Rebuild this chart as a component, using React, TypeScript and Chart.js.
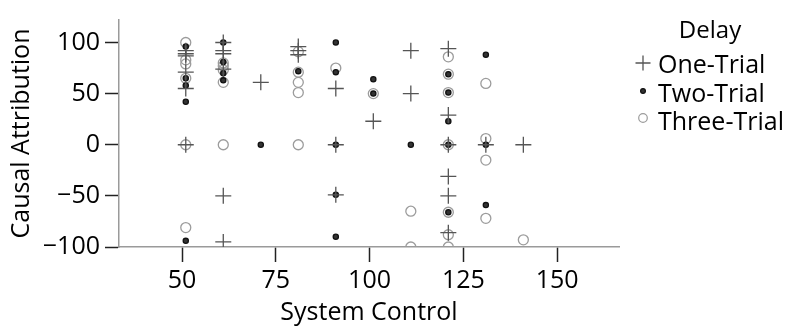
import React, { useEffect, useRef } from 'react';
import { Chart, registerables } from 'chart.js';

Chart.register(...registerables);

const legendTitle = 'Delay';
const seriesNames = ['One-Trial', 'Two-Trial', 'Three-Trial'];
const xTitle = 'System Control';
const yTitle = 'Causal Attribution';
const xTicks = [50, 75, 100, 125, 150];
const yTicks = [-100, -50, 0, 50, 100];

const oneTrialX = [51, 51, 51, 51, 51, 51, 61, 61, 61, 61, 61, 61, 71, 81, 81, 81, 91, 91, 91, 101, 111, 111, 121, 121, 121, 121, 121, 121, 131, 141];
const oneTrialY = [92, 89, 87, 71, 55, 0, 100, 92, 89, 74, -50, -95, 61, 96, 92, 88, 55, 0, -49, 23, 92, 50, 94, 29, 0, -31, -50, -86, 0, 0];

const twoTrialX = [51, 51, 51, 51, 51, 61, 61, 61, 61, 71, 81, 91, 91, 91, 91, 91, 101, 101, 111, 121, 121, 121, 121, 121, 131, 131, 131];
const twoTrialY = [96, 65, 58, 42, -94, 100, 81, 70, 63, 0, 72, 100, 71, 0, -49, -90, 64, 50, 0, 69, 51, 23, 0, -66, 88, 0, -59];

const threeTrialX = [51, 51, 51, 51, 51, 51, 61, 61, 61, 61, 61, 81, 81, 81, 81, 81, 91, 101, 111, 111, 121, 121, 121, 121, 121, 121, 121, 131, 131, 131, 131, 141];
const threeTrialY = [100, 83, 79, 65, 0, -81, 80, 77, 73, 61, 0, 91, 71, 61, 51, 0, 75, 50, -65, -100, 86, 69, 51, 0, -66, -88, -100, 60, 6, -15, -72, -93];

const FONT = "'Open Sans', 'DejaVu Sans', sans-serif";

const toPoints = (xs: number[], ys: number[]) => xs.map((x, i) => ({ x, y: ys[i] }));

const PLUS_COLOR = '#555555';
const DOT_COLOR = '#111111';
const CIRCLE_COLOR = '#9c9c9c';

const legendPlugin = {
  id: 'customLegend',
  afterDraw(chart: any) {
    const ctx = chart.ctx as CanvasRenderingContext2D;
    ctx.save();
    ctx.fillStyle = '#000';
    ctx.textAlign = 'center';
    ctx.textBaseline = 'alphabetic';
    ctx.font = `24px ${FONT}`;
    ctx.fillText(legendTitle, 710, 38);
    ctx.textAlign = 'left';
    ctx.font = `25px ${FONT}`;
    const baselines = [73, 102, 130];
    const markerY = [63, 91, 118];
    const mx = 643;
    seriesNames.forEach((name, i) => {
      ctx.fillStyle = '#000';
      ctx.fillText(name, 658, baselines[i]);
      const my = markerY[i];
      if (i === 0) {
        ctx.strokeStyle = PLUS_COLOR;
        ctx.lineWidth = 1.3;
        ctx.beginPath();
        ctx.moveTo(mx - 7.5, my);
        ctx.lineTo(mx + 7.5, my);
        ctx.moveTo(mx, my - 7.5);
        ctx.lineTo(mx, my + 7.5);
        ctx.stroke();
      } else if (i === 1) {
        ctx.fillStyle = '#333';
        ctx.strokeStyle = DOT_COLOR;
        ctx.lineWidth = 1.2;
        ctx.beginPath();
        ctx.arc(mx, my, 2.4, 0, Math.PI * 2);
        ctx.fill();
        ctx.stroke();
      } else {
        ctx.strokeStyle = CIRCLE_COLOR;
        ctx.lineWidth = 1.2;
        ctx.beginPath();
        ctx.arc(mx, my, 4.3, 0, Math.PI * 2);
        ctx.stroke();
      }
    });
    ctx.restore();
  },
};

export default function App() {
  const canvasRef = useRef<HTMLCanvasElement | null>(null);

  useEffect(() => {
    document.body.style.margin = '0';
    const canvas = canvasRef.current;
    if (!canvas) return;
    Chart.defaults.font.family = FONT;
    const chart = new Chart(canvas, {
      type: 'scatter',
      data: {
        datasets: [
          {
            label: seriesNames[0],
            data: toPoints(oneTrialX, oneTrialY),
            pointStyle: 'cross',
            pointRadius: 8,
            borderColor: PLUS_COLOR,
            backgroundColor: PLUS_COLOR,
            pointBorderWidth: 1.3,
            clip: 0,
          },
          {
            label: seriesNames[1],
            data: toPoints(twoTrialX, twoTrialY),
            pointStyle: 'circle',
            pointRadius: 2.6,
            borderColor: DOT_COLOR,
            backgroundColor: '#333',
            pointBorderWidth: 1.3,
            clip: 0,
          },
          {
            label: seriesNames[2],
            data: toPoints(threeTrialX, threeTrialY),
            pointStyle: 'circle',
            pointRadius: 5,
            borderColor: CIRCLE_COLOR,
            backgroundColor: 'rgba(0,0,0,0)',
            pointBorderWidth: 1.3,
            clip: 0,
          },
        ],
      },
      options: {
        animation: false,
        responsive: false,
        maintainAspectRatio: false,
        layout: { padding: { left: 0, right: 170, top: 8, bottom: 0 } },
        plugins: {
          legend: { display: false },
          tooltip: { enabled: false },
        },
        scales: {
          x: {
            type: 'linear',
            min: 33.2,
            max: 166.5,
            afterBuildTicks: (scale: any) => {
              scale.ticks = xTicks.map((v) => ({ value: v }));
            },
            afterFit: (scale: any) => {
              scale.height = 83;
            },
            grid: {
              drawOnChartArea: false,
              drawTicks: true,
              tickLength: 15,
              tickColor: '#222',
              tickWidth: 1.5,
            },
            border: { color: '#9a9a9a', width: 1.5 },
            ticks: {
              color: '#000',
              padding: 4,
              font: { size: 25, family: FONT },
              maxRotation: 0,
              autoSkip: false,
            },
            title: {
              display: true,
              text: xTitle,
              color: '#000',
              font: { size: 25, family: FONT, lineHeight: 1.2 },
              padding: { top: 0, bottom: 2 },
            },
          },
          y: {
            type: 'linear',
            min: -100,
            max: 122,
            afterBuildTicks: (scale: any) => {
              scale.ticks = yTicks.map((v) => ({ value: v }));
            },
            afterFit: (scale: any) => {
              scale.width = 119;
            },
            grid: {
              drawOnChartArea: false,
              drawTicks: true,
              tickLength: 14,
              tickColor: '#222',
              tickWidth: 1.5,
            },
            border: { color: '#9a9a9a', width: 1.5 },
            ticks: {
              color: '#000',
              padding: 5,
              font: { size: 25, family: FONT },
              autoSkip: false,
              callback: (v: any) => String(v).replace('-', '\u2212'),
            },
            title: {
              display: true,
              text: yTitle,
              color: '#000',
              font: { size: 25, family: FONT, lineHeight: 1.2 },
              padding: { top: 7, bottom: 0 },
            },
          },
        },
      },
      plugins: [legendPlugin],
    } as any);
    return () => chart.destroy();
  }, []);

  return (
    <div style={{ width: 789, height: 330 }}>
      <canvas ref={canvasRef} width={789} height={330} style={{ display: 'block', width: 789, height: 330 }} />
    </div>
  );
}
